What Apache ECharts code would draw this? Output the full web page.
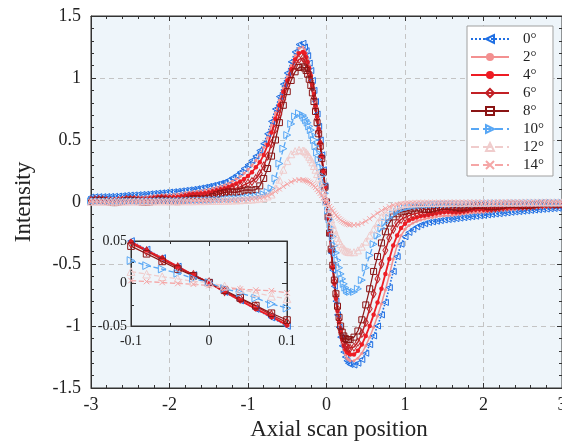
<!DOCTYPE html>
<html><head><meta charset="utf-8">
<script src="https://cdn.jsdelivr.net/npm/echarts@6/dist/echarts.min.js"></script>
<style>html,body{margin:0;padding:0;background:#fff}#c{width:562px;height:443px}</style>
</head><body><div id="c"></div>
<script>
// ---- data ----
const names = ['0°','2°','4°','6°','8°','10°','12°','14°'];
const xs = [-3,-2.95,-2.9,-2.85,-2.8,-2.75,-2.7,-2.65,-2.6,-2.55,-2.5,-2.45,-2.4,-2.35,-2.3,-2.25,-2.2,-2.15,-2.1,-2.05,
 -2,-1.95,-1.9,-1.85,-1.8,-1.75,-1.7,-1.65,-1.6,-1.55,-1.5,-1.45,-1.4,-1.35,-1.3,
 -1.25,-1.2,-1.15,-1.1,-1.05,-1,-0.95,-0.9,-0.85,-0.8,-0.75,-0.7,-0.65,-0.6,-0.55,-0.5,-0.45,-0.4,-0.35,-0.3,
 -0.28,-0.26,-0.24,-0.22,-0.2,-0.18,-0.16,-0.14,-0.12,-0.1,-0.08,-0.06,-0.04,-0.02,0,0.02,0.04,0.06,0.08,0.1,0.12,0.14,0.16,0.18,0.2,0.22,0.24,0.26,0.28,
 0.3,0.35,0.4,0.45,0.5,0.55,0.6,0.65,0.7,0.75,0.8,0.85,0.9,0.95,1,1.05,1.1,1.15,1.2,1.25,
 1.3,1.35,1.4,1.45,1.5,1.55,1.6,1.65,1.7,1.75,1.8,1.85,1.9,1.95,2,2.05,2.1,2.15,2.2,2.25,
 2.3,2.35,2.4,2.45,2.5,2.55,2.6,2.65,2.7,2.75,2.8,2.85,2.9,2.95,3];
const s0 = [0.040,0.042,0.043,0.043,0.044,0.045,0.046,0.048,0.051,0.054,0.056,0.057,0.059,0.061,0.063,0.066,0.069,0.072,0.074,0.077,
 0.080,0.083,0.086,0.090,0.094,0.098,0.102,0.107,0.113,0.119,0.126,0.133,0.141,0.150,0.160,
 0.175,0.195,0.215,0.24,0.27,0.30,0.335,0.37,0.415,0.47,0.55,0.65,0.75,0.85,0.95,1.04,1.13,1.21,1.27,1.28,
 1.25,1.22,1.18,1.12,1.06,0.98,0.90,0.81,0.71,0.61,0.50,0.38,0.26,0.13,0.00,-0.13,-0.27,-0.41,-0.55,-0.68,-0.80,-0.91,-1.01,-1.09,-1.16,-1.21,-1.25,-1.28,-1.30,
 -1.31,-1.315,-1.30,-1.27,-1.22,-1.15,-1.08,-1.00,-0.91,-0.81,-0.69,-0.56,-0.44,-0.34,-0.28,-0.245,-0.22,-0.20,-0.185,-0.175,
 -0.165,-0.160,-0.155,-0.150,-0.145,-0.141,-0.138,-0.134,-0.130,-0.126,-0.122,-0.118,-0.115,-0.111,-0.108,-0.104,-0.100,-0.097,-0.094,-0.090,
 -0.087,-0.083,-0.080,-0.077,-0.074,-0.071,-0.068,-0.065,-0.062,-0.059,-0.057,-0.054,-0.052,-0.050,-0.048];
const s2 = [0.030,0.033,0.034,0.032,0.030,0.029,0.030,0.033,0.037,0.040,0.041,0.040,0.040,0.041,0.043,0.047,0.051,0.055,0.057,0.058,
 0.059,0.061,0.064,0.069,0.074,0.079,0.083,0.087,0.091,0.096,0.102,0.110,0.119,0.128,0.138,
 0.150,0.168,0.185,0.205,0.232,0.262,0.295,0.335,0.380,0.44,0.52,0.62,0.72,0.82,0.92,1.01,1.10,1.18,1.24,1.25,
 1.23,1.20,1.16,1.10,1.04,0.97,0.89,0.80,0.70,0.60,0.49,0.37,0.25,0.13,0.00,-0.13,-0.26,-0.40,-0.54,-0.67,-0.79,-0.90,-0.99,-1.07,-1.14,-1.19,-1.23,-1.26,-1.27,
 -1.28,-1.28,-1.26,-1.22,-1.16,-1.09,-1.01,-0.92,-0.82,-0.71,-0.59,-0.46,-0.35,-0.27,-0.22,-0.19,-0.17,-0.155,-0.145,-0.138,
 -0.130,-0.124,-0.118,-0.113,-0.110,-0.108,-0.106,-0.103,-0.100,-0.095,-0.090,-0.087,-0.085,-0.084,-0.082,-0.079,-0.076,-0.072,-0.068,-0.066,
 -0.064,-0.062,-0.060,-0.057,-0.054,-0.051,-0.048,-0.046,-0.045,-0.044,-0.042,-0.040,-0.037,-0.035,-0.034];
const s4 = [0.021,0.025,0.026,0.024,0.020,0.017,0.017,0.020,0.024,0.028,0.030,0.028,0.025,0.023,0.024,0.028,0.033,0.038,0.040,0.039,
 0.038,0.038,0.041,0.047,0.053,0.060,0.064,0.066,0.068,0.072,0.078,0.086,0.094,0.102,0.110,
 0.120,0.135,0.150,0.165,0.185,0.210,0.240,0.28,0.32,0.38,0.46,0.56,0.67,0.78,0.89,0.98,1.07,1.15,1.20,1.21,
 1.20,1.17,1.13,1.08,1.02,0.95,0.87,0.78,0.69,0.59,0.48,0.37,0.25,0.12,0.00,-0.13,-0.26,-0.39,-0.53,-0.66,-0.78,-0.88,-0.97,-1.05,-1.11,-1.16,-1.19,-1.21,-1.22,
 -1.23,-1.23,-1.20,-1.15,-1.08,-1.00,-0.91,-0.81,-0.70,-0.58,-0.46,-0.35,-0.27,-0.21,-0.175,-0.15,-0.135,-0.125,-0.115,-0.110,
 -0.104,-0.098,-0.092,-0.086,-0.082,-0.081,-0.082,-0.082,-0.080,-0.075,-0.070,-0.065,-0.062,-0.061,-0.062,-0.062,-0.060,-0.056,-0.052,-0.048,
 -0.046,-0.045,-0.044,-0.043,-0.042,-0.039,-0.036,-0.034,-0.032,-0.031,-0.030,-0.029,-0.028,-0.027,-0.025];
const s6 = [0.012,0.017,0.019,0.016,0.011,0.006,0.005,0.008,0.013,0.018,0.021,0.018,0.014,0.010,0.009,0.012,0.018,0.024,0.027,0.025,
 0.022,0.020,0.021,0.026,0.033,0.040,0.045,0.046,0.047,0.050,0.056,0.065,0.074,0.083,0.090,
 0.098,0.105,0.112,0.122,0.138,0.152,0.165,0.19,0.23,0.29,0.37,0.47,0.59,0.71,0.83,0.94,1.03,1.10,1.15,1.16,
 1.15,1.12,1.08,1.04,0.98,0.92,0.84,0.76,0.67,0.57,0.47,0.36,0.24,0.12,0.00,-0.12,-0.25,-0.39,-0.52,-0.64,-0.76,-0.86,-0.95,-1.03,-1.09,-1.13,-1.16,-1.17,-1.18,
 -1.18,-1.17,-1.13,-1.06,-0.97,-0.86,-0.74,-0.62,-0.50,-0.39,-0.29,-0.22,-0.17,-0.14,-0.125,-0.11,-0.098,-0.09,-0.085,-0.085,
 -0.082,-0.077,-0.070,-0.063,-0.058,-0.057,-0.060,-0.063,-0.064,-0.061,-0.056,-0.050,-0.046,-0.044,-0.045,-0.048,-0.050,-0.048,-0.044,-0.039,
 -0.035,-0.031,-0.030,-0.032,-0.034,-0.034,-0.032,-0.028,-0.024,-0.021,-0.020,-0.021,-0.022,-0.022,-0.020];
const s8 = [0.004,0.010,0.013,0.010,0.004,-0.002,-0.005,-0.002,0.005,0.011,0.014,0.011,0.005,-0.001,-0.003,0.000,0.007,0.014,0.017,0.014,
 0.009,0.004,0.003,0.007,0.014,0.022,0.027,0.027,0.024,0.025,0.032,0.045,0.058,0.068,0.075,
 0.082,0.080,0.078,0.085,0.095,0.098,0.095,0.10,0.13,0.19,0.27,0.37,0.50,0.64,0.78,0.89,0.98,1.05,1.085,1.09,
 1.08,1.06,1.03,0.99,0.94,0.88,0.81,0.73,0.64,0.55,0.45,0.35,0.24,0.12,0.00,-0.12,-0.25,-0.38,-0.51,-0.63,-0.74,-0.84,-0.93,-1.00,-1.05,-1.08,-1.10,-1.11,-1.11,
 -1.11,-1.09,-1.04,-0.95,-0.83,-0.70,-0.56,-0.44,-0.33,-0.24,-0.17,-0.12,-0.095,-0.08,-0.075,-0.068,-0.055,-0.048,-0.05,-0.058,
 -0.060,-0.056,-0.048,-0.040,-0.035,-0.035,-0.040,-0.046,-0.049,-0.047,-0.041,-0.034,-0.029,-0.028,-0.030,-0.035,-0.038,-0.037,-0.033,-0.027,
 -0.022,-0.019,-0.019,-0.023,-0.027,-0.028,-0.026,-0.021,-0.016,-0.012,-0.011,-0.013,-0.016,-0.017,-0.015];
const s10 = [0.005,0.005,0.006,0.005,0.005,0.004,0.004,0.005,0.005,0.006,0.006,0.006,0.006,0.005,0.005,0.006,0.006,0.007,0.008,0.008,
 0.008,0.008,0.008,0.009,0.010,0.011,0.012,0.012,0.013,0.014,0.015,0.016,0.018,0.020,0.022,
 0.024,0.026,0.028,0.030,0.033,0.036,0.040,0.045,0.052,0.062,0.08,0.11,0.19,0.31,0.43,0.54,0.63,0.69,0.715,0.70,
 0.68,0.66,0.64,0.61,0.58,0.54,0.50,0.45,0.40,0.34,0.28,0.21,0.14,0.07,0.00,-0.07,-0.14,-0.21,-0.28,-0.35,-0.41,-0.47,-0.53,-0.58,-0.62,-0.66,-0.69,-0.71,-0.72,
 -0.725,-0.725,-0.70,-0.63,-0.53,-0.43,-0.34,-0.27,-0.21,-0.165,-0.13,-0.10,-0.078,-0.06,-0.048,-0.04,-0.034,-0.03,-0.027,-0.025,
 -0.023,-0.021,-0.020,-0.019,-0.018,-0.017,-0.016,-0.015,-0.015,-0.014,-0.014,-0.013,-0.013,-0.012,-0.012,-0.011,-0.011,-0.010,-0.010,-0.010,
 -0.010,-0.009,-0.009,-0.009,-0.009,-0.008,-0.008,-0.008,-0.008,-0.007,-0.007,-0.007,-0.007,-0.006,-0.006];
const s12 = [0.003,0.003,0.003,0.003,0.003,0.003,0.003,0.003,0.003,0.003,0.004,0.004,0.004,0.004,0.004,0.004,0.004,0.005,0.005,0.005,
 0.005,0.005,0.005,0.006,0.006,0.006,0.006,0.007,0.007,0.007,0.008,0.008,0.009,0.009,0.010,
 0.011,0.012,0.013,0.014,0.016,0.018,0.020,0.023,0.027,0.033,0.045,0.06,0.11,0.18,0.26,0.33,0.385,0.41,0.42,0.415,
 0.41,0.40,0.385,0.365,0.345,0.32,0.29,0.26,0.225,0.19,0.155,0.115,0.08,0.04,0.00,-0.045,-0.09,-0.14,-0.185,-0.225,-0.26,-0.29,-0.315,-0.34,-0.36,-0.375,-0.39,-0.398,-0.403,
 -0.405,-0.405,-0.39,-0.36,-0.32,-0.27,-0.22,-0.17,-0.12,-0.085,-0.06,-0.042,-0.03,-0.022,-0.016,-0.013,-0.011,-0.010,-0.009,-0.008,
 -0.008,-0.008,-0.007,-0.007,-0.007,-0.007,-0.006,-0.006,-0.006,-0.006,-0.005,-0.005,-0.005,-0.005,-0.005,-0.005,-0.004,-0.004,-0.004,-0.004,
 -0.004,-0.004,-0.004,-0.004,-0.003,-0.003,-0.003,-0.003,-0.003,-0.003,-0.003,-0.003,-0.003,-0.003,-0.003];
const s14 = [0.002,0.002,0.002,0.002,0.002,0.002,0.002,0.002,0.003,0.003,0.003,0.003,0.003,0.003,0.003,0.003,0.004,0.004,0.004,0.004,
 0.005,0.005,0.005,0.005,0.006,0.006,0.007,0.007,0.008,0.008,0.009,0.009,0.010,0.011,0.012,
 0.013,0.014,0.016,0.018,0.020,0.022,0.025,0.029,0.034,0.040,0.05,0.065,0.085,0.105,0.125,0.145,0.162,0.175,0.18,0.178,
 0.176,0.172,0.167,0.16,0.152,0.142,0.13,0.117,0.10,0.085,0.07,0.052,0.035,0.017,0.00,-0.018,-0.036,-0.054,-0.072,-0.09,-0.105,-0.12,-0.133,-0.145,-0.155,-0.164,-0.171,-0.177,-0.181,
 -0.184,-0.186,-0.182,-0.172,-0.155,-0.135,-0.112,-0.09,-0.07,-0.052,-0.038,-0.027,-0.02,-0.015,-0.012,-0.01,-0.009,-0.008,-0.007,-0.007,
 -0.006,-0.006,-0.006,-0.006,-0.005,-0.005,-0.005,-0.005,-0.005,-0.005,-0.004,-0.004,-0.004,-0.004,-0.004,-0.004,-0.004,-0.004,-0.003,-0.003,
 -0.003,-0.003,-0.003,-0.003,-0.003,-0.003,-0.003,-0.003,-0.002,-0.002,-0.002,-0.002,-0.002,-0.002,-0.002];

// inset (zoom around the origin)
const insetX = [-0.1,-0.08,-0.06,-0.04,-0.02,0,0.02,0.04,0.06,0.08,0.1];
const i0  = [0.050,0.040,0.030,0.020,0.010,0.001,-0.010,-0.020,-0.030,-0.040,-0.050];
const i2  = [0.049,0.039,0.029,0.019,0.010,0.001,-0.009,-0.019,-0.029,-0.039,-0.049];
const i4  = [0.049,0.039,0.030,0.020,0.010,0.001,-0.010,-0.020,-0.030,-0.039,-0.049];
const i6  = [0.047,0.038,0.028,0.019,0.010,0.001,-0.009,-0.018,-0.027,-0.037,-0.046];
const i8  = [0.044,0.035,0.026,0.017,0.009,0.001,-0.008,-0.017,-0.026,-0.035,-0.043];
const i10 = [0.027,0.021,0.017,0.012,0.006,0.001,-0.006,-0.011,-0.017,-0.024,-0.029];
const i12 = [0.014,0.011,0.008,0.0055,0.0025,0.001,-0.003,-0.0066,-0.011,-0.015,-0.018];
const i14 = [0.0035,0.0023,0.0012,0.0,-0.0008,-0.0025,-0.0058,-0.0066,-0.0077,-0.0085,-0.011];

const mainData = [s0,s2,s4,s6,s8,s10,s12,s14];
const insetData = [i0,i2,i4,i6,i8,i10,i12,i14];

// ---- styles ----
const FONT = '"Liberation Serif", "Times New Roman", serif';
const BG = '#eef5fa';
const AX = '#333';
const styles = [
  {c:'#1f6fe3', sym:'triangle', rot:90,  size:6,     hollow:true,  type:'dotted', w:1.6},
  {c:'#f39090', sym:'circle',   rot:0,   size:3,     hollow:false, type:'solid',  w:1.5},
  {c:'#ee1c24', sym:'circle',   rot:0,   size:4.5,   hollow:false, type:'solid',  w:1.8},
  {c:'#c22025', sym:'diamond',  rot:0,   size:[5,8], hollow:true,  type:'solid',  w:1.5},
  {c:'#8a1414', sym:'rect',     rot:0,   size:6,     hollow:true,  type:'solid',  w:1.2},
  {c:'#58a7f5', sym:'triangle', rot:-90, size:7,     hollow:true,  type:'dashed', w:1.3},
  {c:'#f0cccc', sym:'triangle', rot:0,   size:7,     hollow:true,  type:'dashed', w:1.3},
  {c:'#f5a6a6', sym:'path://M0,0L10,10M10,0L0,10', rot:0, size:5, hollow:true, type:'dashed', w:1.3}
];

function mkSeries(k, xIdx, yIdx, pts, z, scale) {
  const st = styles[k];
  return {
    name: names[k], type:'line', xAxisIndex:xIdx, yAxisIndex:yIdx, z:z,
    data: pts, showAllSymbol:true, symbol:st.sym, symbolRotate:st.rot,
    symbolSize: Array.isArray(st.size) ? st.size.map(v=>v*scale) : st.size*scale,
    lineStyle:{color:st.c, width:st.w, type:st.type},
    itemStyle: st.hollow ? {color:'rgba(255,255,255,0)', borderColor:st.c, borderWidth:1}
                         : {color:st.c, borderColor:st.c, borderWidth:0},
    emphasis:{disabled:true}, animation:false
  };
}
const series = [];
for (let k=0;k<names.length;k++) series.push(mkSeries(k,0,0, xs.map((x,i)=>[x, mainData[k][i]]), 2, 1));
for (let k=0;k<names.length;k++) series.push(mkSeries(k,2,2, insetX.map((x,i)=>[x, insetData[k][i]]), 8, 1.1));

function axisCommon(extra){
  return Object.assign({
    axisLine:{show:true, onZero:false, lineStyle:{color:AX, width:1}},
    axisTick:{show:true, inside:true, length:5, lineStyle:{color:AX}},
    minorTick:{show:true, splitNumber:5, length:3, lineStyle:{color:AX}},
    splitLine:{show:false}
  }, extra);
}
const gridLine = {type:[5,4], color:'#c4c4c4', width:1};
const option = {
  animation:false,
  backgroundColor:'#fff',
  grid:[
    {left:91, top:16, width:471, height:372, show:true, backgroundColor:BG, borderColor:AX, borderWidth:1, z:0, outerBoundsMode:'none', containLabel:false},
    {left:131, top:241, width:156, height:85, show:true, backgroundColor:BG, borderColor:AX, borderWidth:1, z:5, outerBoundsMode:'none', containLabel:false}
  ],
  xAxis:[
    axisCommon({type:'value', gridIndex:0, position:'bottom', min:-3, max:3, interval:1,
      axisLabel:{margin:8, fontFamily:FONT, fontSize:18, color:'#222'},
      splitLine:{show:true, lineStyle:gridLine}}),
    axisCommon({type:'value', gridIndex:0, position:'top', min:-3, max:3, interval:1, axisLabel:{show:false}}),
    axisCommon({type:'value', gridIndex:1, position:'bottom', min:-0.1, max:0.1, interval:0.1, z:6,
      minorTick:{show:true, splitNumber:2, length:3, lineStyle:{color:AX}},
      axisLabel:{margin:8, fontFamily:FONT, fontSize:14, color:'#222'},
      splitLine:{show:true, lineStyle:gridLine}}),
    axisCommon({type:'value', gridIndex:1, position:'top', min:-0.1, max:0.1, interval:0.1, z:6,
      minorTick:{show:true, splitNumber:2, length:3, lineStyle:{color:AX}}, axisLabel:{show:false}})
  ],
  yAxis:[
    axisCommon({type:'value', gridIndex:0, position:'left', min:-1.5, max:1.5, interval:0.5,
      axisLabel:{margin:10, fontFamily:FONT, fontSize:18, color:'#222'},
      splitLine:{show:true, lineStyle:gridLine}}),
    axisCommon({type:'value', gridIndex:0, position:'right', min:-1.5, max:1.5, interval:0.5, axisLabel:{show:false}}),
    axisCommon({type:'value', gridIndex:1, position:'left', min:-0.05, max:0.05, interval:0.05, z:6,
      minorTick:{show:true, splitNumber:2, length:3, lineStyle:{color:AX}},
      axisLabel:{margin:4, fontFamily:FONT, fontSize:14, color:'#222'}}),
    axisCommon({type:'value', gridIndex:1, position:'right', min:-0.05, max:0.05, interval:0.05, z:6,
      minorTick:{show:true, splitNumber:2, length:3, lineStyle:{color:AX}}, axisLabel:{show:false}})
  ],
  legend:{
    orient:'vertical', left:467, top:26, itemWidth:38, itemHeight:10, itemGap:2,
    padding:[5,9,3,3], backgroundColor:'#fff', borderColor:'#a0a0a0', borderWidth:1,
    selectedMode:false, z:20,
    textStyle:{fontFamily:FONT, fontSize:15, lineHeight:16, color:'#222', padding:[0,0,0,9]},
    data:names
  },
  graphic:[
    {type:'text', x:339, y:430, z:30, style:{text:'Axial scan position', font:'23px "Liberation Serif"', fill:'#222', align:'center', verticalAlign:'middle'}},
    {type:'text', x:24, y:202, rotation:Math.PI/2, z:30, style:{text:'Intensity', font:'23px "Liberation Serif"', fill:'#222', align:'center', verticalAlign:'middle'}}
  ],
  series: series
};
const chart = echarts.init(document.getElementById('c'), null, {renderer:'canvas'});
chart.setOption(option);
</script></body></html>
